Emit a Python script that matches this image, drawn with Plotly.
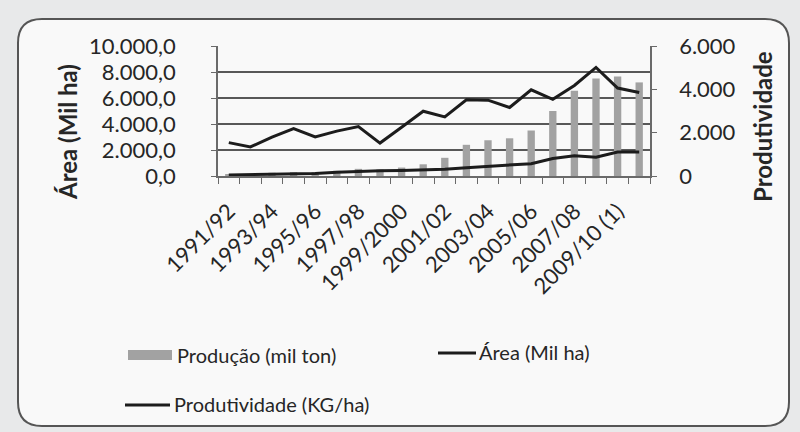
import plotly.graph_objects as go

# Safras (categorias do eixo X)
safras = [
    "1991/92", "1992/93", "1993/94", "1994/95", "1995/96", "1996/97",
    "1997/98", "1998/99", "1999/2000", "2000/01", "2001/02", "2002/03",
    "2003/04", "2004/05", "2005/06", "2006/07", "2007/08", "2008/09",
    "2009/10 (1)", "2010/11",
]

# Séries
producao = [150, 150, 250, 300, 300, 400, 550, 500, 650, 900,
            1400, 2400, 2750, 2900, 3500, 5000, 6550, 7500, 7650, 7200]
area = [80, 100, 130, 160, 200, 280, 360, 400, 420, 460,
        520, 640, 760, 860, 950, 1350, 1550, 1450, 1850, 1850]
produtividade = [1540, 1340, 1790, 2190, 1800, 2070, 2280, 1520, 2250, 2990,
                 2730, 3520, 3500, 3160, 3980, 3540, 4180, 5010, 4060, 3850]

nomes = ["Produção (mil ton)", "Área (Mil ha)", "Produtividade (KG/ha)"]

# Rótulos do eixo X: um a cada duas safras
rotulos_x = [s if i % 2 == 0 else "" for i, s in enumerate(safras)]
ticks_y1 = [0, 2000, 4000, 6000, 8000, 10000]
ticks_y2 = [0, 2000, 4000, 6000]

W, H = 800, 432
ML, MR, MT, MB = 218, 150, 46, 256
PW, PH = W - ML - MR, H - MT - MB

TXT = "#262626"
FONT = "Lato"


def px(x):
    return (x - ML) / PW


def py(y):
    return (H - MB - y) / PH


fig = go.Figure()

fig.add_trace(go.Bar(
    x=safras, y=producao, name=nomes[0], yaxis="y",
    marker=dict(color="#a2a2a2", line=dict(width=0)),
    width=0.34, showlegend=False,
))
fig.add_trace(go.Scatter(
    x=safras, y=area, name=nomes[1], yaxis="y", mode="lines",
    line=dict(color="#1c1c1c", width=3), showlegend=False,
))
fig.add_trace(go.Scatter(
    x=safras, y=produtividade, name=nomes[2], yaxis="y2", mode="lines",
    line=dict(color="#1c1c1c", width=3), showlegend=False,
))

# Moldura arredondada do gráfico
x0, y0, x1, y1, r = 18, 19, 789, 426, 24
moldura = (
    f"M {px(x0 + r)},{py(y0)} L {px(x1 - r)},{py(y0)} "
    f"Q {px(x1)},{py(y0)} {px(x1)},{py(y0 + r)} "
    f"L {px(x1)},{py(y1 - r)} Q {px(x1)},{py(y1)} {px(x1 - r)},{py(y1)} "
    f"L {px(x0 + r)},{py(y1)} Q {px(x0)},{py(y1)} {px(x0)},{py(y1 - r)} "
    f"L {px(x0)},{py(y0 + r)} Q {px(x0)},{py(y0)} {px(x0 + r)},{py(y0)} Z"
)
shapes = [dict(type="path", xref="paper", yref="paper", path=moldura,
               fillcolor="#f9f9f9", line=dict(color="#555555", width=2),
               layer="below")]

# Legenda desenhada à mão (amostras + textos)
shapes.append(dict(type="rect", xref="paper", yref="paper",
                   x0=px(128), x1=px(172), y0=py(360), y1=py(350),
                   fillcolor="#a2a2a2", line=dict(width=0)))
shapes.append(dict(type="line", xref="paper", yref="paper",
                   x0=px(438), x1=px(476), y0=py(353), y1=py(353),
                   line=dict(color="#1c1c1c", width=3)))
shapes.append(dict(type="line", xref="paper", yref="paper",
                   x0=px(125), x1=px(170), y0=py(405), y1=py(405),
                   line=dict(color="#1c1c1c", width=3)))

annotations = [
    dict(text=nomes[0], x=px(175), y=py(355), xanchor="left", yanchor="middle"),
    dict(text=nomes[1], x=px(477), y=py(352), xanchor="left", yanchor="middle"),
    dict(text=nomes[2], x=px(172), y=py(404), xanchor="left", yanchor="middle"),
]
for a in annotations:
    a.update(xref="paper", yref="paper", showarrow=False,
             font=dict(family=FONT, size=20, color=TXT))

annotations += [
    dict(text="<b>Área (Mil ha)</b>", x=px(67), y=py(132), textangle=-90,
         xref="paper", yref="paper", showarrow=False,
         xanchor="center", yanchor="middle",
         font=dict(family=FONT, size=24, color=TXT)),
    dict(text="<b>Produtividade</b>", x=px(762), y=py(127), textangle=-90,
         xref="paper", yref="paper", showarrow=False,
         xanchor="center", yanchor="middle",
         font=dict(family=FONT, size=24, color=TXT)),
]

fig.update_layout(
    width=W, height=H,
    margin=dict(l=ML, r=MR, t=MT, b=MB, pad=0),
    paper_bgcolor="#e8e9ea",
    plot_bgcolor="rgba(0,0,0,0)",
    separators=",.",
    shapes=shapes,
    annotations=annotations,
    font=dict(family=FONT, color=TXT),
    xaxis=dict(
        type="category", tickmode="array", tickvals=safras, ticktext=rotulos_x,
        tickson="boundaries", ticks="outside", ticklen=6, tickcolor="#6a6a6a",
        tickangle=-45, tickfont=dict(family=FONT, size=22, color=TXT),
        ticklabelstandoff=12,
        showgrid=False, showline=True, linecolor="#6a6a6a", linewidth=1.5,
        range=[-0.5, len(safras) - 0.5],
    ),
    yaxis=dict(
        range=[0, 10000], tickvals=ticks_y1, tickformat=",.1f",
        showgrid=True, gridcolor="#585858", gridwidth=1.6,
        ticks="outside", ticklen=5, tickcolor="#6a6a6a",
        showline=True, linecolor="#6a6a6a", linewidth=1.5,
        zeroline=False, ticklabelstandoff=31,
        tickfont=dict(family=FONT, size=22, color=TXT),
    ),
    yaxis2=dict(
        range=[0, 6000], tickvals=ticks_y2, tickformat=",d",
        overlaying="y", side="right", showgrid=False,
        ticks="outside", ticklen=5, tickcolor="#6a6a6a",
        showline=True, linecolor="#6a6a6a", linewidth=1.5,
        zeroline=False, ticklabelstandoff=18,
        tickfont=dict(family=FONT, size=22, color=TXT),
    ),
)

fig.write_html("out.html")
